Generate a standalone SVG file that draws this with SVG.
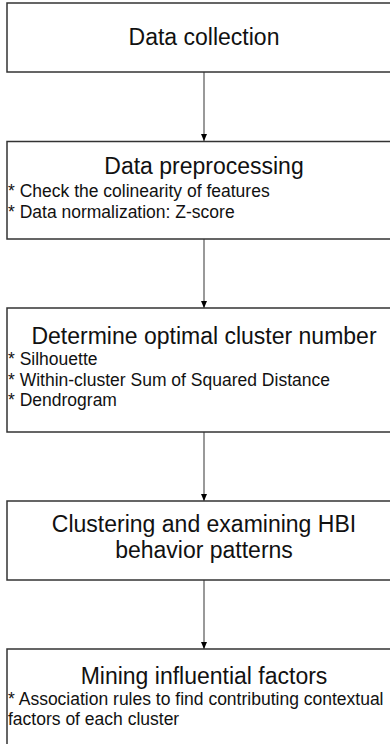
<svg xmlns="http://www.w3.org/2000/svg" width="390" height="744" viewBox="0 0 390 744">
<style>
.box{fill:#fff;stroke:#333;stroke-width:1.5}
.t{font-family:"Liberation Sans",Arial,sans-serif;font-size:23px;fill:#111;text-anchor:middle}
.b{font-family:"Liberation Sans",Arial,sans-serif;font-size:17.5px;fill:#111}
.c{stroke:#555;stroke-width:1.2;fill:none;marker-end:url(#ah)}
</style>
<defs>
<marker id="ah" markerWidth="7" markerHeight="6" refX="7" refY="3" orient="auto" markerUnits="userSpaceOnUse" viewBox="0 0 7 6">
<path d="M0,0 L7,3 L0,6 Z" fill="#000"/>
</marker>
</defs>
<rect width="390" height="744" fill="#fff"/>
<g id="connectors">
<line class="c" x1="204" y1="72" x2="204" y2="141"/>
<line class="c" x1="204" y1="239" x2="204" y2="308"/>
<line class="c" x1="204" y1="432" x2="204" y2="501"/>
<line class="c" x1="204" y1="580" x2="204" y2="649"/>
</g>
<g id="n1">
<rect class="box" x="7" y="3" width="394" height="69"/>
<text class="t" x="204" y="45">Data collection</text>
</g>
<g id="n2">
<rect class="box" x="7" y="141.5" width="394" height="97.5"/>
<text class="t" x="204" y="174">Data preprocessing</text>
<text class="b" x="8" y="197">* Check the colinearity of features</text>
<text class="b" x="8" y="218">* Data normalization: Z-score</text>
</g>
<g id="n3">
<rect class="box" x="7" y="308" width="394" height="124"/>
<text class="t" x="204" y="344">Determine optimal cluster number</text>
<text class="b" x="8" y="365">* Silhouette</text>
<text class="b" x="8" y="386">* Within-cluster Sum of Squared Distance</text>
<text class="b" x="8" y="406">* Dendrogram</text>
</g>
<g id="n4">
<rect class="box" x="7" y="501" width="394" height="79"/>
<text class="t" x="204" y="532">Clustering and examining HBI</text>
<text class="t" x="204" y="558">behavior patterns</text>
</g>
<g id="n5">
<rect class="box" x="7" y="649" width="394" height="110"/>
<text class="t" x="204" y="684">Mining influential factors</text>
<text class="b" x="8" y="705">* Association rules to find contributing contextual</text>
<text class="b" x="8" y="725">factors of each cluster</text>
</g>
</svg>
